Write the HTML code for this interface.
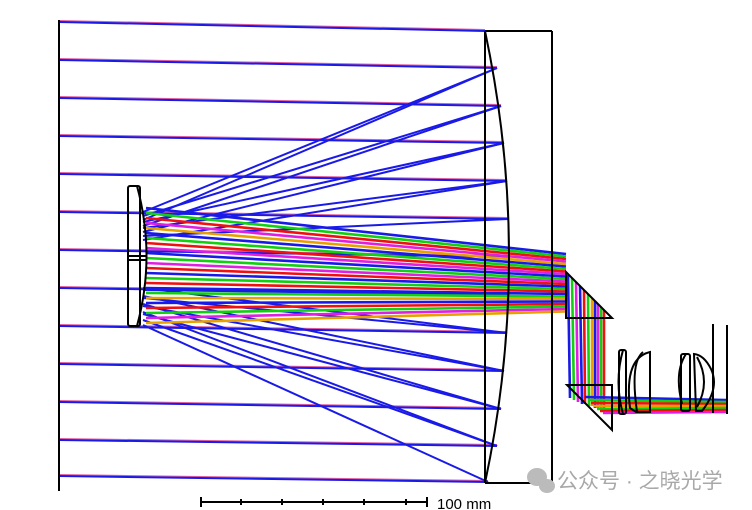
<!DOCTYPE html>
<html><head><meta charset="utf-8"><style>
html,body{margin:0;padding:0;background:#fff;}
svg{display:block;}
</style></head><body>
<svg width="752" height="510" viewBox="0 0 752 510" xmlns="http://www.w3.org/2000/svg">
<g stroke-width="2" fill="none">
<g stroke="#e060a0" transform="translate(0,-1)">
<line x1="59" y1="22" x2="485" y2="31"/><line x1="59" y1="60" x2="497" y2="68"/><line x1="59" y1="98" x2="501" y2="106"/><line x1="59" y1="136" x2="504" y2="143"/><line x1="59" y1="174" x2="507" y2="181"/><line x1="59" y1="212" x2="508" y2="219"/><line x1="59" y1="250" x2="509" y2="257"/><line x1="59" y1="288" x2="508" y2="295"/><line x1="59" y1="326" x2="507" y2="333"/><line x1="59" y1="364" x2="504" y2="371"/><line x1="59" y1="402" x2="501" y2="409"/><line x1="59" y1="440" x2="497" y2="446"/><line x1="59" y1="476" x2="488" y2="482"/>
</g>
<g stroke="#1a1ae8">
<line x1="59" y1="22" x2="485" y2="31"/><line x1="59" y1="60" x2="497" y2="68"/><line x1="59" y1="98" x2="501" y2="106"/><line x1="59" y1="136" x2="504" y2="143"/><line x1="59" y1="174" x2="507" y2="181"/><line x1="59" y1="212" x2="508" y2="219"/><line x1="59" y1="250" x2="509" y2="257"/><line x1="59" y1="288" x2="508" y2="295"/><line x1="59" y1="326" x2="507" y2="333"/><line x1="59" y1="364" x2="504" y2="371"/><line x1="59" y1="402" x2="501" y2="409"/><line x1="59" y1="440" x2="497" y2="446"/><line x1="59" y1="476" x2="488" y2="482"/>
<line x1="497" y1="68" x2="143" y2="212"/><line x1="501" y1="106" x2="143" y2="216"/><line x1="504" y1="143" x2="143" y2="222"/><line x1="507" y1="181" x2="143" y2="228"/><line x1="508" y1="219" x2="143" y2="236"/>
<line x1="497" y1="68" x2="143" y2="220"/><line x1="501" y1="106" x2="143" y2="226"/><line x1="504" y1="143" x2="143" y2="232"/><line x1="507" y1="181" x2="143" y2="240"/>
<line x1="508" y1="295" x2="143" y2="290"/><line x1="507" y1="333" x2="143" y2="298"/><line x1="504" y1="371" x2="143" y2="306"/><line x1="501" y1="409" x2="143" y2="314"/><line x1="497" y1="446" x2="143" y2="320"/><line x1="488" y1="482" x2="143" y2="325"/>
<line x1="507" y1="333" x2="143" y2="288"/><line x1="504" y1="371" x2="143" y2="296"/><line x1="501" y1="409" x2="143" y2="304"/><line x1="497" y1="446" x2="143" y2="312"/>
</g>
</g>
<g stroke-width="2.6" fill="none">
<line x1="146" y1="208" x2="566" y2="254" stroke="#1a1ae8"/>
<line x1="146" y1="213" x2="566" y2="256.5" stroke="#10d010"/>
<line x1="146" y1="218" x2="566" y2="259" stroke="#f01010"/>
<line x1="146" y1="223" x2="566" y2="261.5" stroke="#e020e0"/>
<line x1="146" y1="228" x2="566" y2="264" stroke="#e8a000"/>
<line x1="146" y1="233" x2="566" y2="266.5" stroke="#1a1ae8"/>
<line x1="146" y1="238" x2="566" y2="269" stroke="#10d010"/>
<line x1="146" y1="243" x2="566" y2="271.5" stroke="#f01010"/>
<line x1="146" y1="248" x2="566" y2="274" stroke="#e020e0"/>
<line x1="146" y1="253" x2="566" y2="276.5" stroke="#1a1ae8"/>
<line x1="146" y1="258" x2="566" y2="279" stroke="#10d010"/>
<line x1="146" y1="263" x2="566" y2="281.5" stroke="#e020e0"/>
<line x1="146" y1="268" x2="566" y2="284" stroke="#f01010"/>
<line x1="146" y1="273" x2="566" y2="286.5" stroke="#1a1ae8"/>
<line x1="146" y1="278" x2="566" y2="289" stroke="#10d010"/>
<line x1="146" y1="283" x2="566" y2="291.5" stroke="#f01010"/>
<line x1="146" y1="288" x2="566" y2="294" stroke="#1a1ae8"/>
<line x1="146" y1="293" x2="566" y2="296.5" stroke="#10d010"/>
<line x1="146" y1="298" x2="566" y2="299" stroke="#e8a000"/>
<line x1="146" y1="303" x2="566" y2="301.5" stroke="#1a1ae8"/>
<line x1="146" y1="308" x2="566" y2="304" stroke="#f01010"/>
<line x1="146" y1="313" x2="566" y2="306.5" stroke="#10d010"/>
<line x1="146" y1="318" x2="566" y2="309" stroke="#e020e0"/>
<line x1="146" y1="323" x2="566" y2="311.5" stroke="#e8a000"/>
<line x1="568" y1="275" x2="570" y2="398" stroke="#1a1ae8"/>
<line x1="572" y1="278" x2="574" y2="400" stroke="#10d010"/>
<line x1="576" y1="282" x2="578" y2="402" stroke="#e020e0"/>
<line x1="580" y1="286" x2="582" y2="404" stroke="#1a1ae8"/>
<line x1="584" y1="290" x2="585" y2="404" stroke="#f01010"/>
<line x1="588" y1="294" x2="589" y2="406" stroke="#10d010"/>
<line x1="592" y1="298" x2="592" y2="406" stroke="#e8a000"/>
<line x1="595" y1="301" x2="595" y2="408" stroke="#1a1ae8"/>
<line x1="598" y1="304" x2="598" y2="408" stroke="#e020e0"/>
<line x1="601" y1="307" x2="601" y2="410" stroke="#10d010"/>
<line x1="604" y1="310" x2="604" y2="412" stroke="#f01010"/>
<line x1="585" y1="397" x2="726" y2="400" stroke="#1a1ae8"/>
<line x1="588" y1="400" x2="726" y2="402" stroke="#10d010"/>
<line x1="591" y1="403" x2="726" y2="404" stroke="#f01010"/>
<line x1="594" y1="406" x2="726" y2="406" stroke="#e8a000"/>
<line x1="597" y1="409" x2="726" y2="408" stroke="#10d010"/>
<line x1="600" y1="411" x2="726" y2="410" stroke="#f01010"/>
<line x1="603" y1="413" x2="726" y2="412" stroke="#e020e0"/>
</g>
<g stroke="#000" stroke-width="2" fill="none">
<line x1="59" y1="20" x2="59" y2="491"/>
<line x1="485" y1="31" x2="485" y2="483"/>
<line x1="485" y1="31" x2="552" y2="31"/>
<line x1="485" y1="483" x2="552" y2="483"/>
<line x1="552" y1="31" x2="552" y2="483"/>
<path d="M485 31 Q533 257 485 483"/>
<rect x="128" y="186" width="12" height="140" rx="2"/>
<path d="M137 186 Q156 256 137 326"/>
<line x1="128" y1="256" x2="146" y2="256"/><line x1="128" y1="260" x2="146" y2="260"/>
<path d="M566 272 L612 318 L566 318 Z"/>
<path d="M567 385 L612 385 L612 430 Z"/>
<rect x="619" y="350" width="7" height="64" rx="2"/>
<path d="M623 350 Q614 382 623 414"/>
<path d="M650 352 Q624 358 630 408 L636 412 L650 412 L650 353 Z"/>
<path d="M643 352 Q630 362 637 412"/>
<rect x="681" y="354" width="9" height="57" rx="2"/>
<path d="M686 354 Q674 372 682 404"/>
<path d="M694 354 L696 411 L702 411 Q720 388 711 369 Q704 355 694 354 Z"/>
<path d="M697 357 Q711 382 697 407"/>
<line x1="713" y1="324" x2="713" y2="413"/>
<line x1="727" y1="325" x2="727" y2="414"/>
<line x1="201" y1="502" x2="427" y2="502"/>
<line x1="201" y1="497" x2="201" y2="507"/><line x1="427" y1="497" x2="427" y2="507"/>
<line x1="241" y1="499" x2="241" y2="505"/><line x1="282" y1="499" x2="282" y2="505"/><line x1="323" y1="499" x2="323" y2="505"/><line x1="364" y1="499" x2="364" y2="505"/><line x1="406" y1="499" x2="406" y2="505"/>
</g>
<text x="437" y="509" font-family="Liberation Sans, sans-serif" font-size="15" fill="#000">100 mm</text>
<g fill="#bbb">
<ellipse cx="537" cy="477" rx="10" ry="9"/>
<ellipse cx="547" cy="486" rx="8" ry="7"/>
</g>
<text x="557" y="488" font-family="Liberation Sans, 'Noto Sans CJK SC', sans-serif" font-size="21" fill="#a8a8a8">公众号 · 之晓光学</text>
</svg>
</body></html>
